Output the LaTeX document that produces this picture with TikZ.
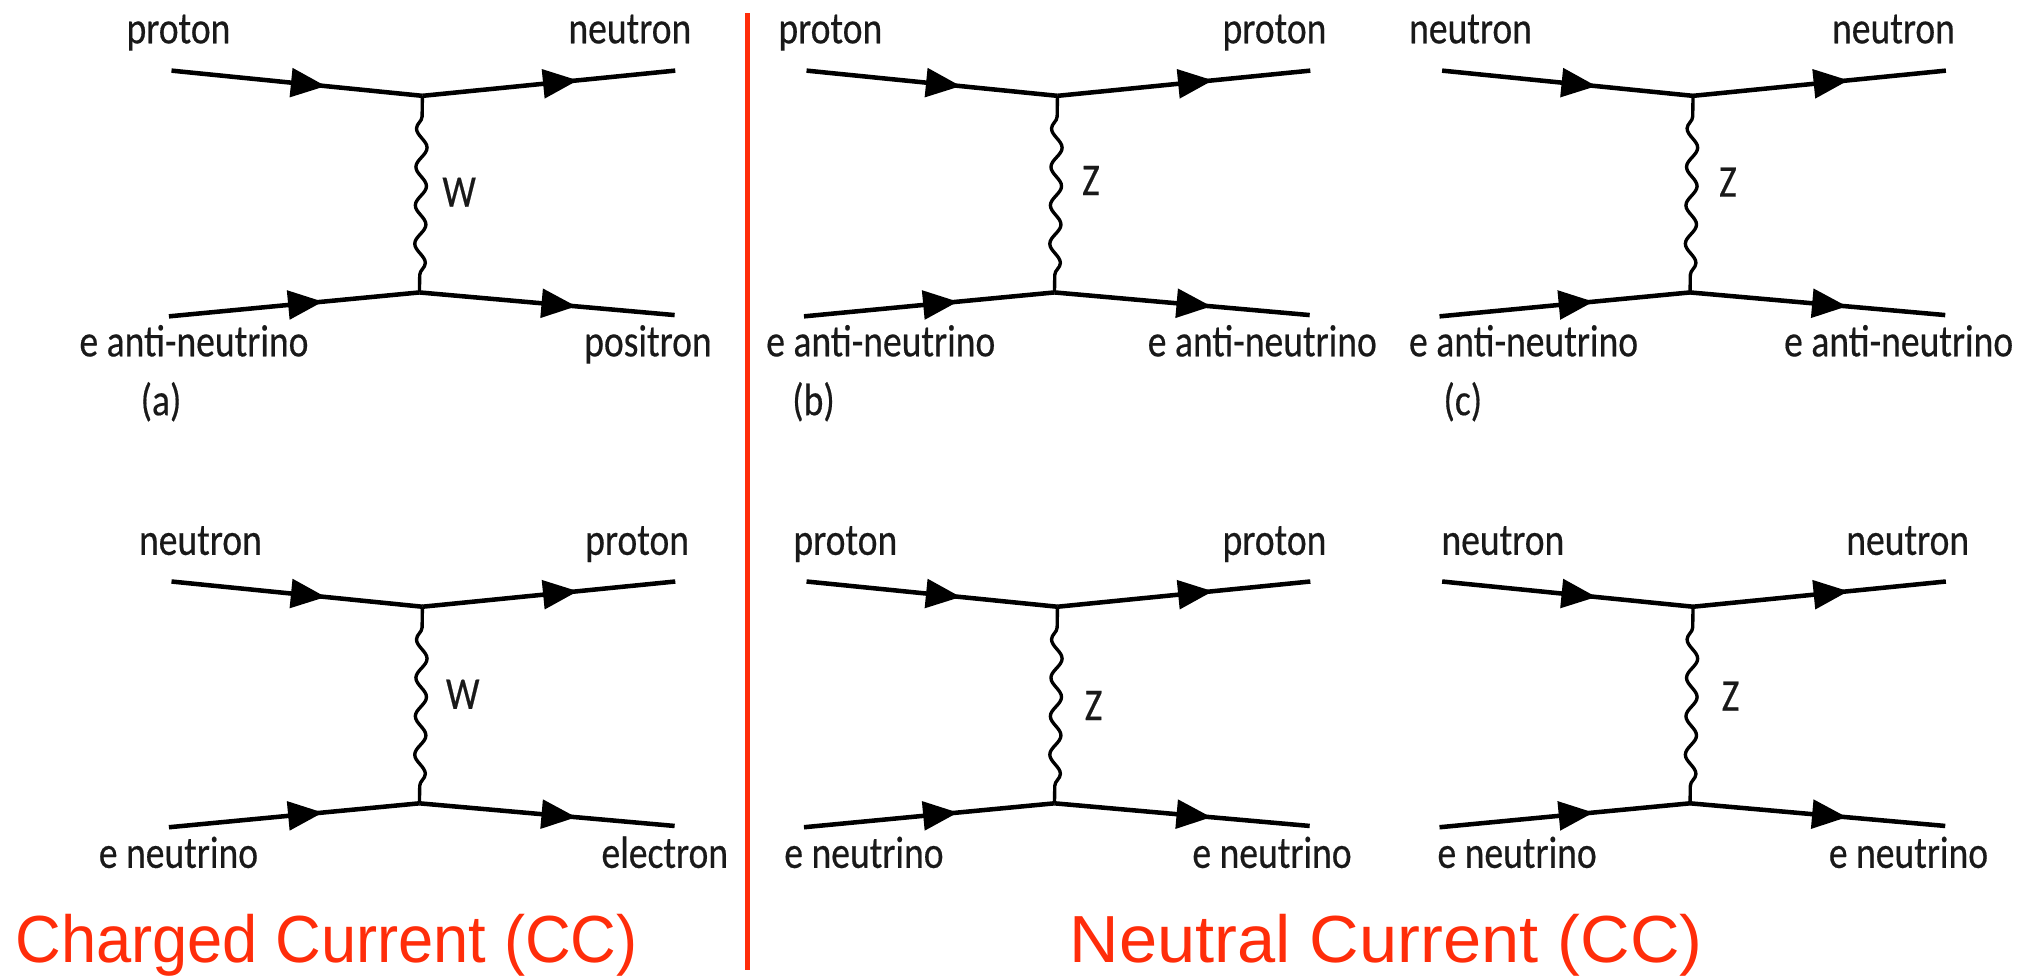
\documentclass[tikz,border=0pt]{standalone}
\usepackage{fontspec}
\usetikzlibrary{arrows.meta,decorations.markings,decorations.pathmorphing}
\setmainfont[FakeStretch=0.83,FakeBold=0.4]{Carlito}
\newfontfamily\redcharged[FakeStretch=0.95]{Liberation Sans}
\newfontfamily\redneutral[FakeStretch=1.03]{Liberation Sans}
\definecolor{redmark}{RGB}{255,45,10}
\newcommand{\fdiagram}[3]{%
  \coordinate (#1tl) at (#2,#3);
  \coordinate (#1tv) at ({#2+194},{#3+19.5});
  \coordinate (#1tr) at ({#2+389.5},#3);
  \coordinate (#1bl) at ({#2-2},{#3+190});
  \coordinate (#1bv) at ({#2+191.7},{#3+171.5});
  \coordinate (#1br) at ({#2+389},{#3+189});
  \draw[fermion] (#1tl) -- (#1tv);
  \draw[fermion] (#1tv) -- (#1tr);
  \draw[fermion] (#1bl) -- (#1bv);
  \draw[fermion] (#1bv) -- (#1br);
  \draw[boson] (#1tv) -- (#1bv);
}
\tikzset{
  x=1pt,y=-1pt,
  fermion/.style={line width=3.5pt,line cap=butt,black,postaction={decorate},
    decoration={markings,mark=at position 0.615 with {\arrow{Triangle[length=27pt,width=22pt,fill=black]}}}},
  boson/.style={line width=2.6pt,black,decorate,decoration={snake,mirror,segment length=29.7pt,amplitude=4.2pt,pre=lineto,pre length=16pt,post length=0pt}},
  lab/.style={font=\fontsize{35}{38}\selectfont,inner sep=0pt,anchor=base,text=black!90},
  title/.style={inner sep=0pt,anchor=base,text=redmark},
}
\begin{document}
\begin{tikzpicture}
\useasboundingbox (0,0) rectangle (1568,755.4);
\fdiagram{a}{132.6}{54.6}
\fdiagram{d}{132.6}{449.6}
\fdiagram{b}{623.6}{54.6}
\fdiagram{e}{623.6}{449.6}
\fdiagram{c}{1115}{54.6}
\fdiagram{f}{1115}{449.6}
\coordinate (rt) at (578,10.3);
\coordinate (rb) at (578,750);
\draw[redmark,line width=4pt] (rt) -- (rb);
\node[lab] (a1) at (138,33.5) {proton};
\node[lab] (a2) at (487,33.5) {neutron};
\node[lab] (a3) at (150,275.5) {e anti-neutrino};
\node[lab] (a4) at (501,275.5) {positron};
\node[lab] (a5) at (124.5,321) {(a)};
\node[lab] (a6) at (355,159.8) {W};
\node[lab] (d1) at (155,429) {neutron};
\node[lab] (d2) at (492.6,429) {proton};
\node[lab] (d3) at (138,671) {e neutrino};
\node[lab] (d4) at (514,671) {electron};
\node[lab] (d6) at (357.8,548) {W};
\node[lab] (b1) at (642,33.5) {proton};
\node[lab] (b2) at (985.4,33.5) {proton};
\node[lab] (b3) at (681,275.5) {e anti-neutrino};
\node[lab] (b4) at (976,275.5) {e anti-neutrino};
\node[lab] (b5) at (629,321) {(b)};
\node[lab] (b6) at (843.5,150.8) {Z};
\node[lab] (e1) at (653.6,429) {proton};
\node[lab] (e2) at (985.4,429) {proton};
\node[lab] (e3) at (668,671) {e neutrino};
\node[lab] (e4) at (983.5,671) {e neutrino};
\node[lab] (e6) at (845.5,556.7) {Z};
\node[lab] (c1) at (1137,33.5) {neutron};
\node[lab] (c2) at (1464,33.5) {neutron};
\node[lab] (c3) at (1178,275.5) {e anti-neutrino};
\node[lab] (c4) at (1468,275.5) {e anti-neutrino};
\node[lab] (c5) at (1131,321) {(c)};
\node[lab] (c6) at (1336,152) {Z};
\node[lab] (f1) at (1162,429) {neutron};
\node[lab] (f2) at (1475,429) {neutron};
\node[lab] (f3) at (1173,671) {e neutrino};
\node[lab] (f4) at (1475.6,671) {e neutrino};
\node[lab] (f6) at (1338,549.5) {Z};
\node[title,font=\redcharged\fontsize{51.5}{54}\selectfont] (t1) at (252.5,744) {Charged Current (CC)};
\node[title,font=\redneutral\fontsize{51.5}{54}\selectfont] (t2) at (1071.8,744) {Neutral Current (CC)};
\end{tikzpicture}
\end{document}
